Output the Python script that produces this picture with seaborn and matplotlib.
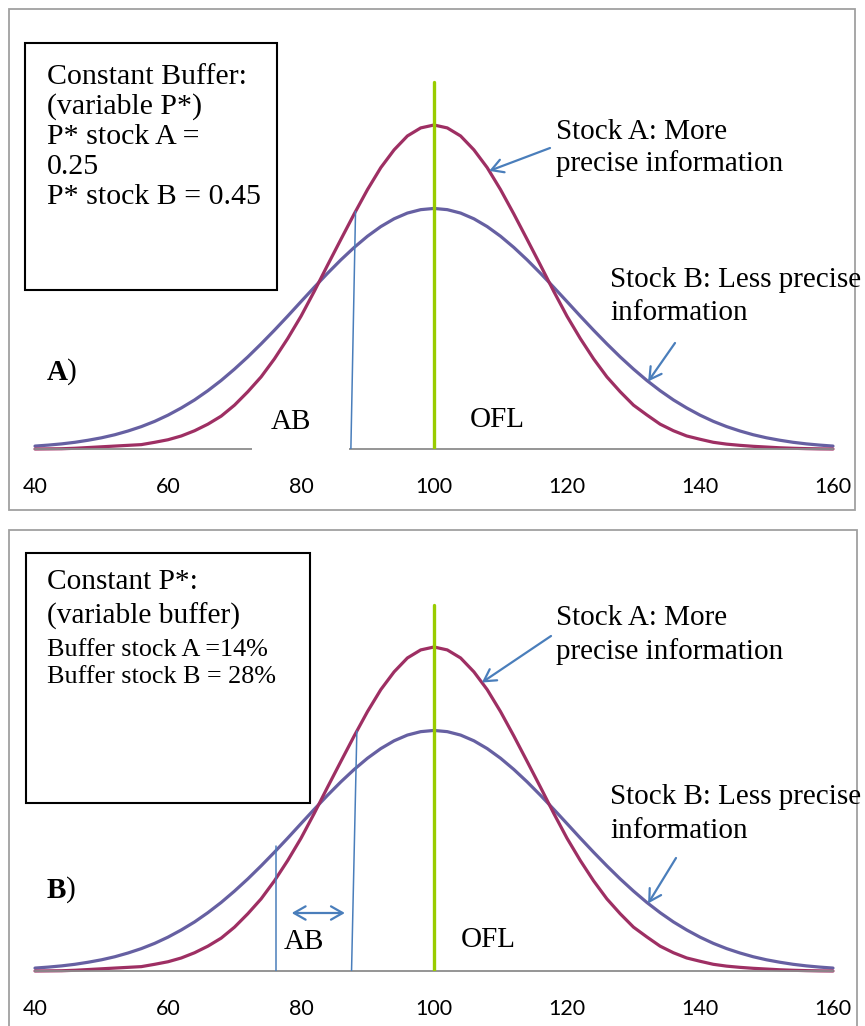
import numpy as np
import matplotlib
matplotlib.use("Agg")
import matplotlib.pyplot as plt
import seaborn as sns
from matplotlib.patches import Rectangle

# ---------------- data ----------------
x_values = list(range(40, 161, 2))
stock_a = [0.0, 0.00001, 0.00002, 0.00006, 0.00012, 0.00018, 0.00024, 0.0003, 0.00036, 0.00055,
           0.00076, 0.00107, 0.0015, 0.00204, 0.0027, 0.0036, 0.0047, 0.00592, 0.0074, 0.00907,
           0.0109, 0.01295, 0.0151, 0.01721, 0.0193, 0.0213, 0.0231, 0.02456, 0.0257, 0.02636,
           0.0266,
           0.02636, 0.0257, 0.02456, 0.0231, 0.0213, 0.0193, 0.01721, 0.0151, 0.01295, 0.0109,
           0.00907, 0.0074, 0.00592, 0.0047, 0.0036, 0.0028, 0.00204, 0.0015, 0.00107, 0.0008,
           0.00055, 0.0004, 0.0003, 0.00022, 0.00016, 0.0001, 0.00006, 0.00003, 0.00001, 0.0]
stock_b = [0.00024, 0.00032, 0.00042, 0.00055, 0.00072, 0.00092, 0.00117, 0.00148, 0.00184, 0.00227,
           0.00278, 0.00337, 0.00403, 0.00479, 0.00563, 0.00656, 0.00756, 0.00863, 0.00975, 0.01091,
           0.0121, 0.01328, 0.01443, 0.01553, 0.01655, 0.01747, 0.01826, 0.0189, 0.01937, 0.01965,
           0.01975,
           0.01965, 0.01937, 0.0189, 0.01826, 0.01747, 0.01655, 0.01553, 0.01443, 0.01328, 0.0121,
           0.01091, 0.00975, 0.00863, 0.00756, 0.00656, 0.00563, 0.00479, 0.00403, 0.00337, 0.00278,
           0.00227, 0.00184, 0.00148, 0.00117, 0.00092, 0.00072, 0.00055, 0.00042, 0.00032, 0.00024]
x_ticks = [40, 60, 80, 100, 120, 140, 160]
ofl_x = 100
# panel A: constant buffer, variable P*
ab_a_bottom, ab_a_top = 87.5, 88.2
# panel B: constant P*, variable buffer
ab_b1 = 76.2
ab_b2_bottom, ab_b2_top = 87.6, 88.4
arrow_b_span = (78.6, 86.6)

box_a_lines = ["Constant Buffer:", "(variable P*)", "P* stock A =", "0.25", "P* stock B = 0.45"]
box_b_big = ["Constant P*:", "(variable buffer)"]
box_b_small = ["Buffer stock A =14%", "Buffer stock B = 28%"]

# ---------------- style ----------------
sns.set_theme(style="white")
plt.rcParams['font.family'] = ['Liberation Serif', 'DejaVu Serif']
plt.rcParams['text.color'] = 'black'

RED = "#9E2F63"
PURPLE = "#6660A2"
GREEN = "#99CC00"
BLUE = "#4A7EBB"
GRAY = "#8C8C8C"

W, H = 865, 1026
fig = plt.figure(figsize=(W / 100, H / 100), dpi=100)


def fp(px, py):
    return (px / W, 1 - py / H)


x = np.array(x_values)
ya = np.array(stock_a)
yb = np.array(stock_b)
peak_px = 324.0
units_per_px = ya.max() / peak_px


def make_axes(base_py, top_py):
    ax = fig.add_axes([35 / W, 1 - base_py / H, (833 - 35) / W, (base_py - top_py) / H])
    ax.set_facecolor('none')
    ax.set_xlim(40, 160)
    ax.set_ylim(0, (base_py - top_py) * units_per_px)
    for s in ['left', 'right', 'top']:
        ax.spines[s].set_visible(False)
    ax.spines['bottom'].set_color(GRAY)
    ax.spines['bottom'].set_linewidth(1.3)
    ax.set_yticks([])
    ax.set_xticks(x_ticks)
    ax.set_xticklabels([str(t) for t in x_ticks], fontfamily='Lato', fontsize=15.5)
    ax.tick_params(axis='x', length=0, pad=20.5, colors='black')
    ax.set_xlabel('')
    ax.set_ylabel('')
    return ax


def draw_curves(ax, top_frac):
    sns.lineplot(x=x, y=yb, ax=ax, color=PURPLE, lw=2.3, clip_on=False, legend=False)
    sns.lineplot(x=x, y=ya, ax=ax, color=RED, lw=2.3, clip_on=False, legend=False)
    ax.axvline(ofl_x, ymin=0, ymax=top_frac, color=GREEN, lw=2.4, zorder=5)


def frame(x0, y0, x1, y1, color, lw):
    fig.patches.append(Rectangle(fp(x0, y1), (x1 - x0) / W, (y1 - y0) / H,
                                 transform=fig.transFigure, fill=False,
                                 ec=color, lw=lw, zorder=0))


arrow_kw = dict(arrowstyle='->,head_length=0.7,head_width=0.4', color=BLUE, lw=1.6,
                shrinkA=0, shrinkB=0)
TXT = 21

# ================= Panel A =================
frame(9, 9, 855, 510, "#A0A0A0", 1.3)
axA = make_axes(449, 60)
draw_curves(axA, 367 / 389)
axA.plot([ab_a_bottom, ab_a_top], [0, np.interp(ab_a_top, x, ya)], color=BLUE, lw=1.1, zorder=4)
# white gap in the baseline behind "AB"
fig.patches.append(Rectangle(fp(252, 451), 97 / W, 48 / H, transform=fig.transFigure,
                             fc='white', ec='none', zorder=1))

frame(25, 43, 277, 290, "black", 1.5)
for i, t in enumerate(box_a_lines):
    fig.text(*fp(46.7, 76.7 + 30 * i), t, fontsize=21.5, va='center', ha='left')

fig.text(*fp(47, 372), "A", fontsize=TXT, fontweight='bold', va='center', ha='left')
fig.text(*fp(67, 372), ")", fontsize=TXT, va='center', ha='left')
fig.text(*fp(291, 421.7), "AB", fontsize=TXT, va='center', ha='center', zorder=3)
fig.text(*fp(497, 420), "OFL", fontsize=TXT, va='center', ha='center')

fig.text(*fp(556, 131.7), "Stock A: More", fontsize=TXT, va='center', ha='left')
fig.text(*fp(556, 163.5), "precise information", fontsize=TXT, va='center', ha='left')
fig.text(*fp(610, 280), "Stock B: Less precise", fontsize=TXT, va='center', ha='left')
fig.text(*fp(610, 313), "information", fontsize=TXT, va='center', ha='left')

axA.annotate("", xy=(108.3, np.interp(108.3, x, ya)), xycoords='data',
             xytext=fp(550, 148), textcoords='figure fraction', arrowprops=arrow_kw)
axA.annotate("", xy=(132.2, np.interp(132.2, x, yb)), xycoords='data',
             xytext=fp(675, 343), textcoords='figure fraction', arrowprops=arrow_kw)

# ================= Panel B =================
frame(9, 530, 857, 1040, "#A0A0A0", 1.3)
axB = make_axes(971, 582)
draw_curves(axB, 366 / 389)
axB.plot([ab_b1, ab_b1], [0, np.interp(ab_b1, x, yb) + 0.0004], color=BLUE, lw=1.1, zorder=4)
axB.plot([ab_b2_bottom, ab_b2_top], [0, np.interp(ab_b2_top, x, ya)], color=BLUE, lw=1.1, zorder=4)
axB.annotate("", xy=(arrow_b_span[1], 58 * units_per_px), xytext=(arrow_b_span[0], 58 * units_per_px),
             arrowprops=dict(arrowstyle='<->,head_length=0.7,head_width=0.4', color=BLUE, lw=1.6,
                             shrinkA=0, shrinkB=0))

frame(26, 553, 310, 803, "black", 1.5)
fig.text(*fp(46.7, 581.7), box_b_big[0], fontsize=21.2, va='center', ha='left')
fig.text(*fp(46.7, 616.7), box_b_big[1], fontsize=21.2, va='center', ha='left')
fig.text(*fp(46.7, 650), box_b_small[0], fontsize=18.8, va='center', ha='left')
fig.text(*fp(46.7, 677), box_b_small[1], fontsize=18.8, va='center', ha='left')

fig.text(*fp(47, 890), "B", fontsize=TXT, fontweight='bold', va='center', ha='left')
fig.text(*fp(66, 890), ")", fontsize=TXT, va='center', ha='left')
fig.text(*fp(304, 941.7), "AB", fontsize=TXT, va='center', ha='center')
fig.text(*fp(488, 940), "OFL", fontsize=TXT, va='center', ha='center')

fig.text(*fp(556, 618), "Stock A: More", fontsize=TXT, va='center', ha='left')
fig.text(*fp(556, 652), "precise information", fontsize=TXT, va='center', ha='left')
fig.text(*fp(610, 797), "Stock B: Less precise", fontsize=TXT, va='center', ha='left')
fig.text(*fp(610, 831), "information", fontsize=TXT, va='center', ha='left')

axB.annotate("", xy=(107.2, np.interp(107.2, x, ya)), xycoords='data',
             xytext=fp(551, 636), textcoords='figure fraction', arrowprops=arrow_kw)
axB.annotate("", xy=(132.2, np.interp(132.2, x, yb)), xycoords='data',
             xytext=fp(676, 858), textcoords='figure fraction', arrowprops=arrow_kw)

fig.savefig("out.png", dpi=100)
